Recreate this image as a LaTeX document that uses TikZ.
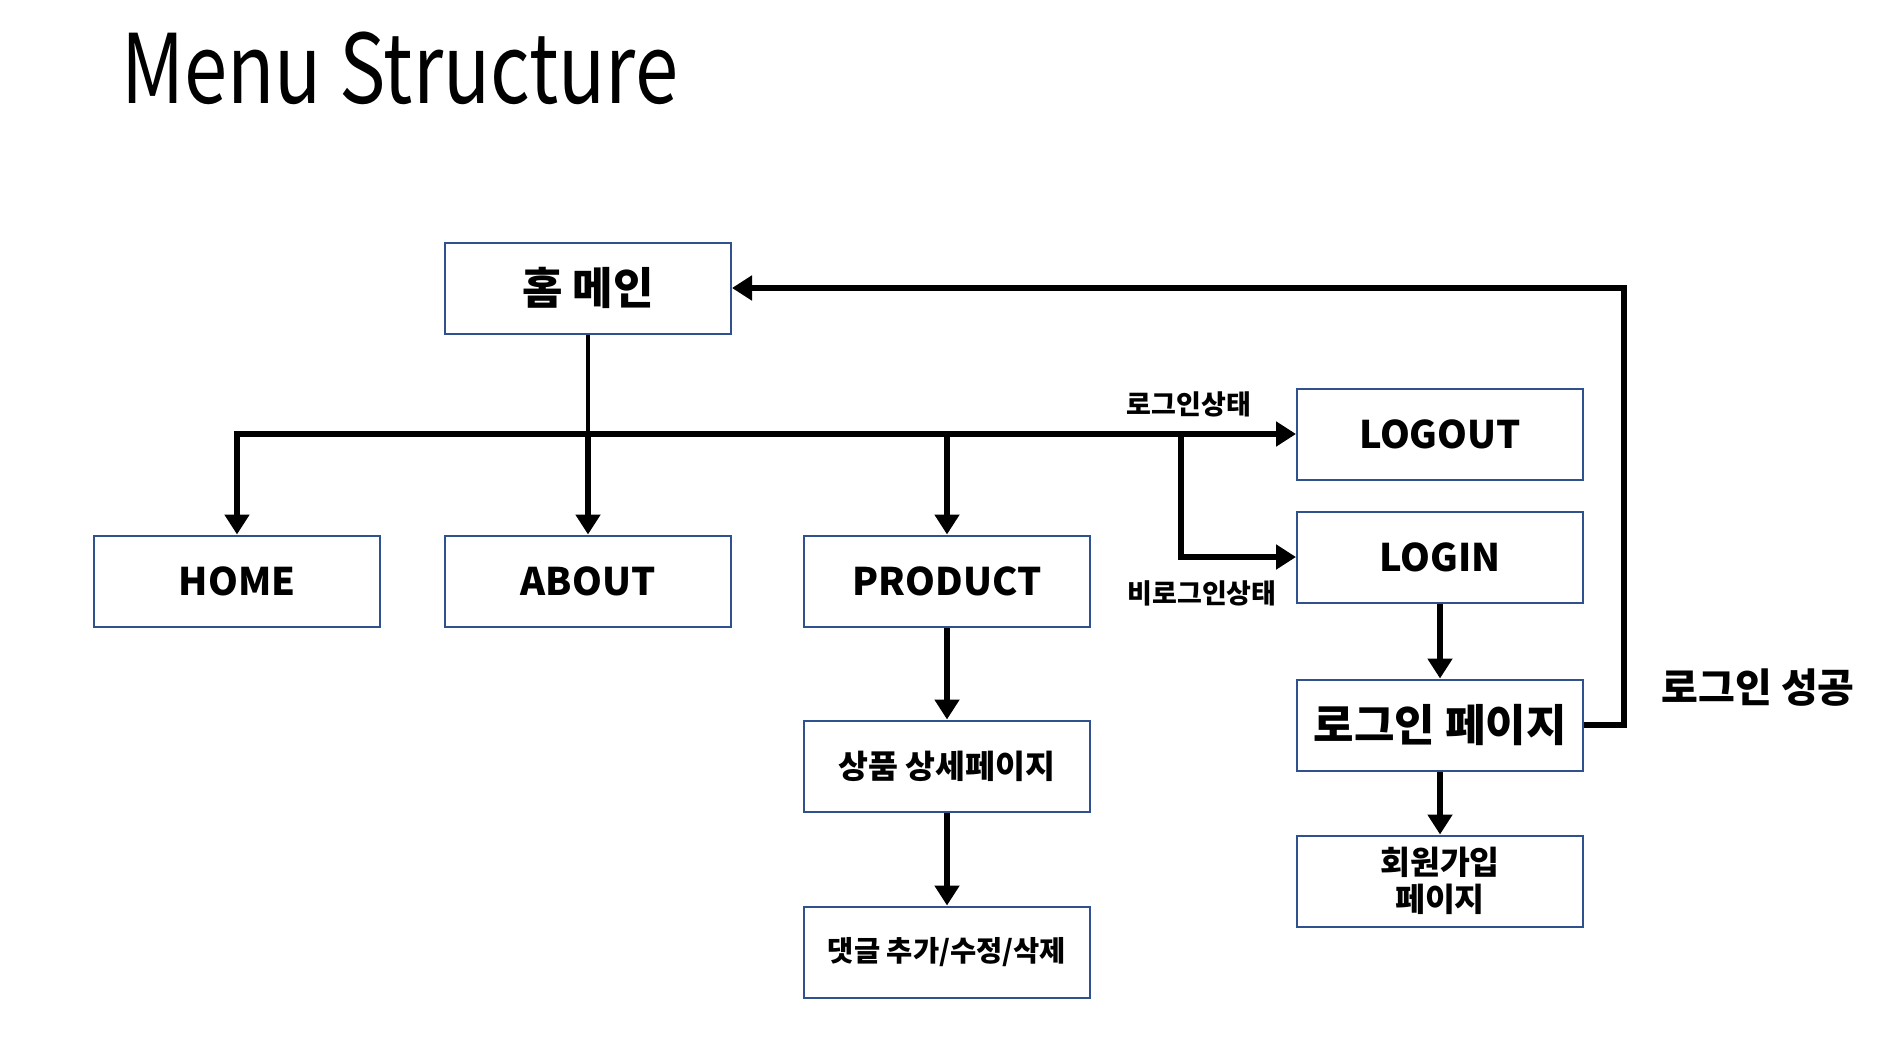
\documentclass[tikz,border=0pt]{standalone}
\usepackage{fontspec}
\setmainfont{Noto Sans CJK KR}
\usetikzlibrary{arrows.meta}
\definecolor{boxblue}{RGB}{47,82,143}
\begin{document}
\begin{tikzpicture}[x=1pt,y=-1pt,
  menubox/.style={draw=boxblue,line width=2pt,fill=white,minimum width=286pt,minimum height=91pt,inner sep=0pt,align=center,font=\bfseries\fontsize{38}{44}\selectfont},
  conn/.style={line width=6pt,-{Triangle[length=20pt,width=24pt]}},
  lbl/.style={font=\bfseries\fontsize{27}{30}\selectfont,inner sep=0pt}]
\useasboundingbox (0,0) rectangle (1898,1038);
\fill[white] (0,0) rectangle (1898,1038);
\node[anchor=west,inner sep=0pt,font=\fontsize{96}{110}\selectfont] (title) at (121,68) {\scalebox{0.81}[1]{Menu Structure}};
\node[menubox,font=\bfseries\fontsize{44}{50}\selectfont] (main) at (588,288) {홈 메인};
\node[menubox] (home) at (237,581) {HOME};
\node[menubox] (about) at (588,581) {ABOUT};
\node[menubox] (prod) at (947,581) {PRODUCT};
\node[menubox,font=\bfseries\fontsize{32.5}{37}\selectfont] (detail) at (947,766) {상품 상세페이지};
\node[menubox,font=\bfseries\fontsize{28.5}{34}\selectfont] (comment) at (947,952) {댓글 추가/수정/삭제};
\node[menubox] (logout) at (1440,434) {LOGOUT};
\node[menubox] (login) at (1440,557) {LOGIN};
\node[menubox,font=\bfseries\fontsize{44}{50}\selectfont] (lpage) at (1440,725) {로그인 페이지};
\node[menubox,font=\bfseries\fontsize{32.5}{37}\selectfont] (join) at (1440,881) {회원가입\\페이지};
\node[lbl] (l1) at (1189,404) {로그인상태};
\node[lbl] (l2) at (1202,593) {비로그인상태};
\node[lbl,font=\bfseries\fontsize{40}{44}\selectfont] (l3) at (1758,688) {로그인 성공};
\coordinate (br) at (1181,434);
\draw[line width=4.5pt] (main.south) -- (main.south |- logout.west);
\draw[conn,{Triangle[length=20pt,width=24pt]}-{Triangle[length=20pt,width=24pt]}] (home.north) |- (logout.west);
\draw[conn] (main.south |- logout.west) -- (about.north);
\draw[conn] (prod.north |- logout.west) -- (prod.north);
\draw[conn] (br) |- (login.west);
\draw[conn] (prod.south) -- (detail.north);
\draw[conn] (detail.south) -- (comment.north);
\draw[conn] (login.south) -- (lpage.north);
\draw[conn] (lpage.south) -- (join.north);
\draw[conn] (lpage.east) -- ++(40,0) |- (main.east);
\end{tikzpicture}
\end{document}
